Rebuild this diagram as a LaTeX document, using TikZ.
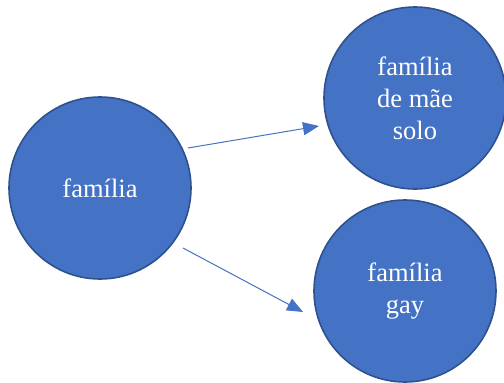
\documentclass[tikz,border=0pt]{standalone}
\usepackage{fontspec}
\setmainfont{Liberation Serif}
\usetikzlibrary{arrows.meta}
\definecolor{circfill}{HTML}{4472C4}
\definecolor{circline}{HTML}{2F528F}
\definecolor{arrcol}{HTML}{4472C4}
\tikzset{
  bubble/.style={circle, fill=circfill, draw=circline, line width=1.6pt,
    minimum size=182pt, inner sep=0pt, text=white, align=center,
    font=\fontsize{26.5}{32}\selectfont},
  link/.style={draw=arrcol, line width=1pt,
    -{Triangle[length=16pt,width=13pt]}}
}
\begin{document}
\begin{tikzpicture}[x=1pt,y=-1pt]
  \useasboundingbox (0,0) rectangle (504,383);
  \node[bubble] (fam) at (100,188) {família};
  \node[bubble] (mae) at (415,98) {família\\de mãe\\solo};
  \node[bubble] (gay) at (405,291) {\raisebox{-4pt}{\parbox{120pt}{\centering família\\gay}}};
  % connector end points just outside the circles
  \coordinate (s1) at (188,148);
  \coordinate (t1) at (319,126);
  \coordinate (s2) at (183,248);
  \coordinate (t2) at (303,312);
  \draw[link] (s1) -- (t1);
  \draw[link] (s2) -- (t2);
\end{tikzpicture}
\end{document}
